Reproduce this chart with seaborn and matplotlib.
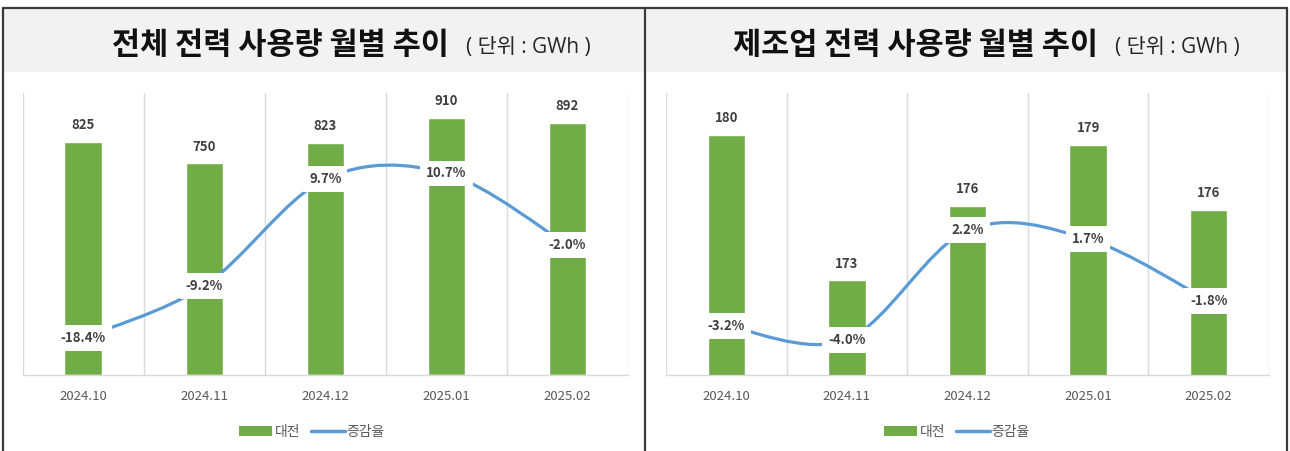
import numpy as np
import matplotlib
matplotlib.use("Agg")
import matplotlib.pyplot as plt
import seaborn as sns
from matplotlib.path import Path
from matplotlib.patches import PathPatch, Patch, Rectangle
from matplotlib.lines import Line2D

# ---------------- data ----------------
months = ["2024.10", "2024.11", "2024.12", "2025.01", "2025.02"]
total_usage = [825, 750, 823, 910, 892]
total_rate = [-18.4, -9.2, 9.7, 10.7, -2.0]
mfg_usage = [179.9, 172.7, 176.4, 179.4, 176.2]
mfg_rate = [-3.2, -4.0, 2.2, 1.7, -1.8]
titles = ["전체 전력 사용량 월별 추이", "제조업 전력 사용량 월별 추이"]
unit_text = "( 단위 : GWh )"
legend_labels = ["대전", "증감율"]

# ---------------- style ----------------
sns.set_style("white")
plt.rcParams["font.family"] = ["Noto Sans CJK KR", "DejaVu Sans"]

GREEN = "#70ad47"
BLUE = "#5b9bd5"
DARK = "#404040"
GRAY = "#595959"
GRID = "#d9d9d9"

W, H = 1290, 451
fig = plt.figure(figsize=(W / 100, H / 100), dpi=100)


def fx(px):
    return px / W


def fy(py):
    return (H - py) / H


# header backgrounds
for x0, x1 in [(4, 644), (646, 1286)]:
    fig.patches.append(Rectangle((fx(x0), fy(72)), fx(x1 - x0), (72 - 8) / H,
                                 transform=fig.transFigure, facecolor="#f2f2f2",
                                 edgecolor="none", zorder=0))
# borders
bc = "#3a3a3a"
fig.add_artist(Line2D([fx(3), fx(1287)], [fy(7.5), fy(7.5)], transform=fig.transFigure, color=bc, lw=1.6))
for xp in [3, 645, 1287]:
    fig.add_artist(Line2D([fx(xp), fx(xp)], [fy(7.5), 0], transform=fig.transFigure, color=bc, lw=1.6))


def smooth_path(xs, ys):
    pts = np.column_stack([xs, ys]).astype(float)
    n = len(pts)
    verts = [pts[0]]
    codes = [Path.MOVETO]
    for i in range(n - 1):
        p0 = pts[i - 1] if i > 0 else pts[i]
        p1 = pts[i]
        p2 = pts[i + 1]
        p3 = pts[i + 2] if i + 2 < n else pts[i + 1]
        c1 = p1 + (p2 - p0) / 6.0
        c2 = p2 - (p3 - p1) / 6.0
        verts += [c1, c2, p2]
        codes += [Path.CURVE4] * 3
    return Path(verts, codes)


panels = [
    dict(usage=total_usage, rate=total_rate, ylim=(0, 1000), y2lim=(-25, 25),
         x0=22.7, x1=628, legend_cx=312, title_x=112),
    dict(usage=mfg_usage, rate=mfg_rate, ylim=(168, 182), y2lim=(-6, 10),
         x0=666, x1=1269, legend_cx=957, title_x=733),
]

for k, p in enumerate(panels):
    ax = fig.add_axes([fx(p["x0"]), fy(375), fx(p["x1"] - p["x0"]), (375 - 92.7) / H])
    sns.barplot(x=months, y=p["usage"], ax=ax, color=GREEN, saturation=1, width=0.31)
    ax.set_ylim(*p["ylim"])
    ax.set_xlim(-0.5, 4.5)
    ax.set_yticks([])
    ax.set_xticks(np.arange(-0.5, 5.0, 1.0), minor=True)
    ax.grid(False)
    ax.grid(which="minor", axis="x", color=GRID, lw=1)
    ax.tick_params(which="both", length=0)
    ax.tick_params(axis="x", which="major", labelsize=9.5, labelcolor=GRAY, pad=11)
    for s in ["top", "left", "right"]:
        ax.spines[s].set_visible(False)
    ax.spines["bottom"].set_color(GRID)
    ax.spines["bottom"].set_linewidth(1)
    ax.set_xlabel("")
    ax.set_ylabel("")
    ax.bar_label(ax.containers[0], labels=[f"{v:.0f}" for v in p["usage"]],
                 padding=7, fontsize=9.5, fontweight="bold", color=DARK)

    ax2 = ax.twinx()
    ax2.set_ylim(*p["y2lim"])
    ax2.set_yticks([])
    for s in ax2.spines.values():
        s.set_visible(False)
    path = smooth_path(np.arange(len(months)), p["rate"])
    ax2.add_patch(PathPatch(path, facecolor="none", edgecolor=BLUE, lw=2.3,
                            capstyle="round", joinstyle="round"))
    for i, r in enumerate(p["rate"]):
        ax2.text(i, r, f"{r:.1f}%", ha="center", va="center", fontsize=9.5,
                 fontweight="bold", color=DARK,
                 bbox=dict(boxstyle="square,pad=0.45", facecolor="white", edgecolor="none"))

    # titles
    t = fig.text(fx(p["title_x"]), fy(54), titles[k], fontsize=22, fontweight="bold",
                 color="#111111", ha="left", va="baseline")
    fig.canvas.draw()
    ext = t.get_window_extent()
    fig.text((ext.x1 + 17) / W, fy(53), unit_text, fontsize=15, color="#262626",
             ha="left", va="baseline", family=["Open Sans", "Noto Sans CJK KR"])

    handles = [Patch(facecolor=GREEN, edgecolor="none"), Line2D([], [], color=BLUE, lw=2.5)]
    fig.legend(handles, legend_labels, loc="center", bbox_to_anchor=(fx(p["legend_cx"]), fy(432)),
               ncol=2, frameon=False, fontsize=10, handlelength=2.4, handletextpad=0.15,
               columnspacing=0.8, labelcolor=GRAY)

fig.savefig("out.png", dpi=100)
